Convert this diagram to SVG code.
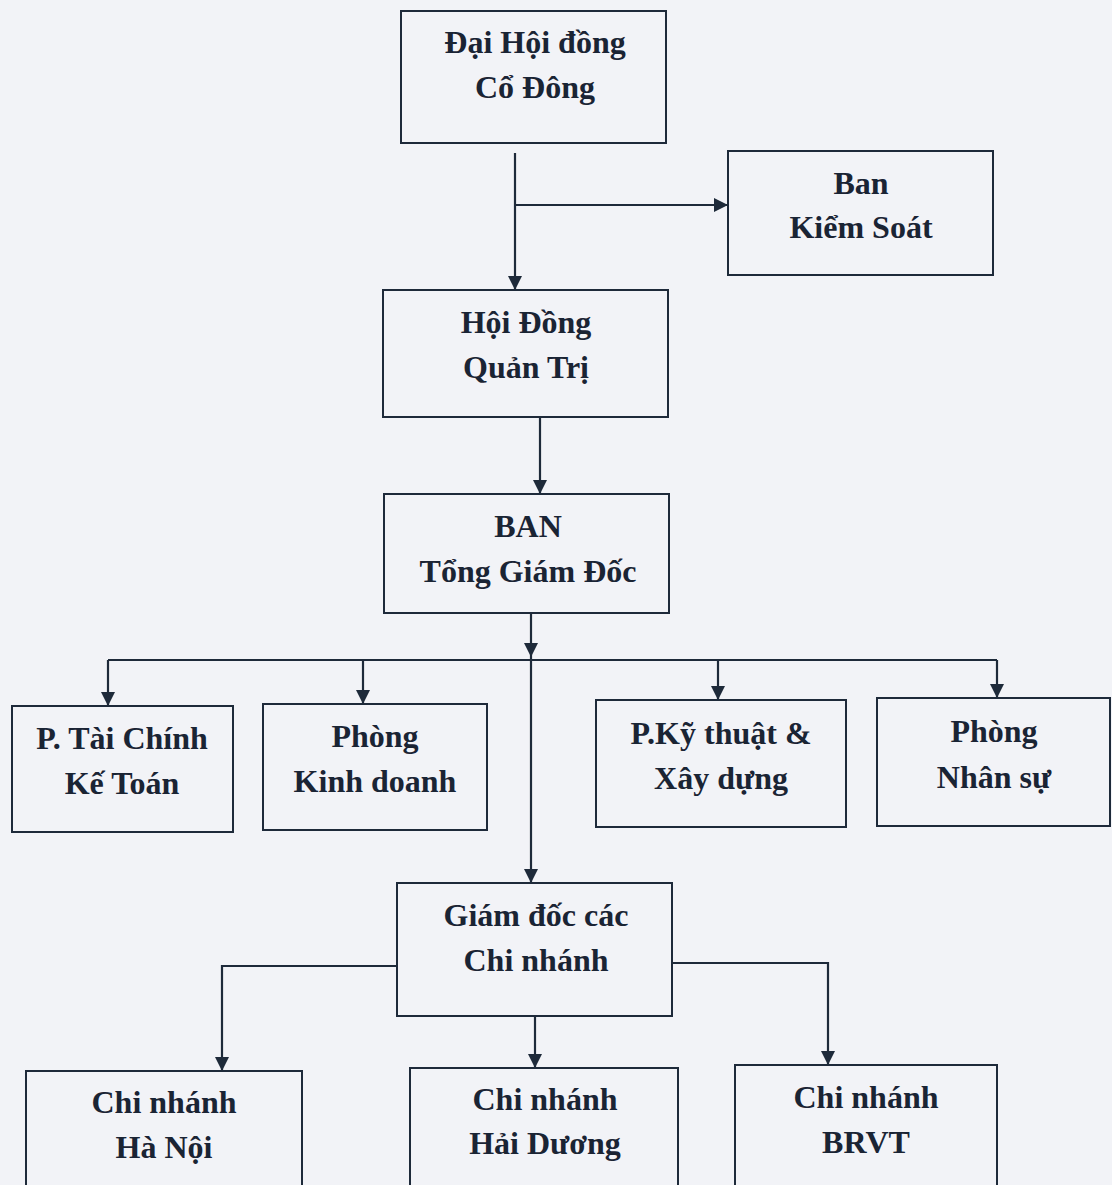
<svg xmlns="http://www.w3.org/2000/svg" width="1112" height="1185" viewBox="0 0 1112 1185">
<defs>
<style>
.box{fill:none;stroke:#1e2a3a;stroke-width:2}
.t{font-family:"Liberation Serif","Times New Roman",serif;font-weight:bold;font-size:32px;fill:#1a2434;text-anchor:middle}
.c{fill:none;stroke:#1e2a3a;stroke-width:2.2}
</style>
<marker id="ah" viewBox="0 0 10 10" refX="10" refY="5" markerWidth="7" markerHeight="7" markerUnits="userSpaceOnUse" orient="auto">
<path d="M0,0 L10,5 L0,10 Z" fill="#1e2a3a"/>
</marker>
<marker id="a" viewBox="0 0 12 12" refX="12" refY="6" markerWidth="14" markerHeight="14" markerUnits="userSpaceOnUse" orient="auto">
<path d="M0,0 L12,6 L0,12 Z" fill="#1e2a3a"/>
</marker>
</defs>
<rect width="1112" height="1185" fill="#f2f3f7"/>
<g id="connectors">
<path class="c" d="M515,153 V290" marker-end="url(#a)"/>
<path class="c" d="M515,205 H728" marker-end="url(#a)"/>
<path class="c" d="M540,418 V494" marker-end="url(#a)"/>
<path class="c" d="M531,613 V657" marker-end="url(#a)"/>
<path class="c" d="M108,660 H997"/>
<path class="c" d="M108,660 V706" marker-end="url(#a)"/>
<path class="c" d="M363,660 V704" marker-end="url(#a)"/>
<path class="c" d="M718,660 V700" marker-end="url(#a)"/>
<path class="c" d="M997,660 V698" marker-end="url(#a)"/>
<path class="c" d="M531,657 V883" marker-end="url(#a)"/>
<path class="c" d="M397,966 H222 V1071" marker-end="url(#a)"/>
<path class="c" d="M535,1016 V1068" marker-end="url(#a)"/>
<path class="c" d="M672,963 H828 V1065" marker-end="url(#a)"/>
</g>
<g id="n1"><rect class="box" x="401" y="11" width="265" height="132"/><text class="t" x="535" y="53">Đại Hội đồng</text><text class="t" x="535" y="98">Cổ Đông</text></g>
<g id="n2"><rect class="box" x="728" y="151" width="265" height="124"/><text class="t" x="861" y="194">Ban</text><text class="t" x="861" y="238">Kiểm Soát</text></g>
<g id="n3"><rect class="box" x="383" y="290" width="285" height="127"/><text class="t" x="526" y="333">Hội Đồng</text><text class="t" x="526" y="378">Quản Trị</text></g>
<g id="n4"><rect class="box" x="384" y="494" width="285" height="119"/><text class="t" x="528" y="537">BAN</text><text class="t" x="528" y="582">Tổng Giám Đốc</text></g>
<g id="n5"><rect class="box" x="12" y="706" width="221" height="126"/><text class="t" x="122" y="749">P. Tài Chính</text><text class="t" x="122" y="794">Kế Toán</text></g>
<g id="n6"><rect class="box" x="263" y="704" width="224" height="126"/><text class="t" x="375" y="747">Phòng</text><text class="t" x="375" y="792">Kinh doanh</text></g>
<g id="n7"><rect class="box" x="596" y="700" width="250" height="127"/><text class="t" x="721" y="744">P.Kỹ thuật &amp;</text><text class="t" x="721" y="789">Xây dựng</text></g>
<g id="n8"><rect class="box" x="877" y="698" width="233" height="128"/><text class="t" x="994" y="742">Phòng</text><text class="t" x="994" y="788">Nhân sự</text></g>
<g id="n9"><rect class="box" x="397" y="883" width="275" height="133"/><text class="t" x="536" y="926">Giám đốc các</text><text class="t" x="536" y="971">Chi nhánh</text></g>
<g id="n10"><rect class="box" x="26" y="1071" width="276" height="130"/><text class="t" x="164" y="1113">Chi nhánh</text><text class="t" x="164" y="1158">Hà Nội</text></g>
<g id="n11"><rect class="box" x="410" y="1068" width="268" height="130"/><text class="t" x="545" y="1110">Chi nhánh</text><text class="t" x="545" y="1154">Hải Dương</text></g>
<g id="n12"><rect class="box" x="735" y="1065" width="262" height="130"/><text class="t" x="866" y="1108">Chi nhánh</text><text class="t" x="866" y="1153">BRVT</text></g>
</svg>
